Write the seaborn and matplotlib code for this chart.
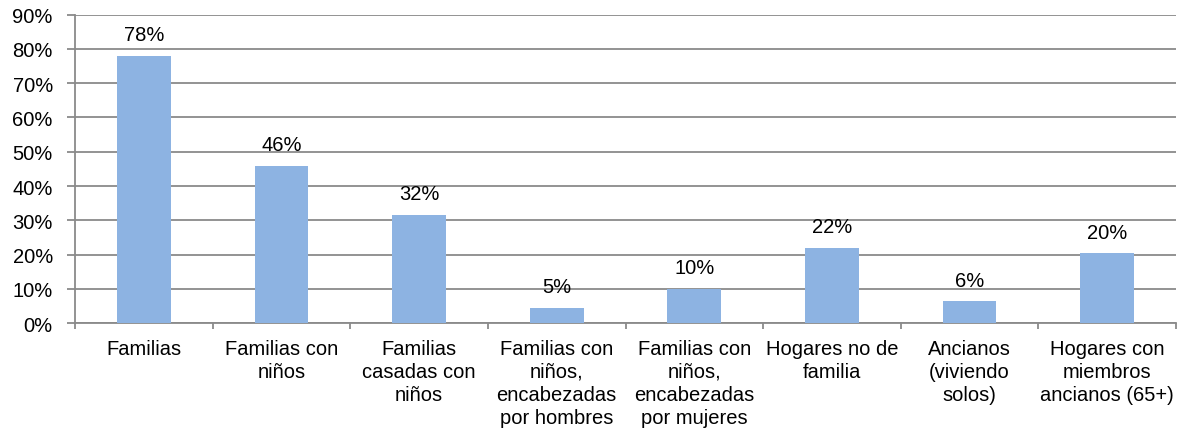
import matplotlib
matplotlib.use("Agg")
import matplotlib.pyplot as plt
import seaborn as sns
import pandas as pd

# Household types and their share of all households (%)
categories = [
    "Familias",
    "Familias con\nniños",
    "Familias\ncasadas con\nniños",
    "Familias con\nniños,\nencabezadas\npor hombres",
    "Familias con\nniños,\nencabezadas\npor mujeres",
    "Hogares no de\nfamilia",
    "Ancianos\n(viviendo\nsolos)",
    "Hogares con\nmiembros\nancianos (65+)",
]
shares = [78.0, 46.0, 31.6, 4.6, 10.0, 22.0, 6.4, 20.4]
y_ticks = [0, 10, 20, 30, 40, 50, 60, 70, 80, 90]

df = pd.DataFrame({"tipo": categories, "pct": shares})

sns.set_theme(style="white")
plt.rcParams["font.family"] = ["Liberation Sans", "DejaVu Sans"]

fig = plt.figure(figsize=(11.8, 4.31), dpi=100)
ax = fig.add_axes([0.0636, 0.2476, 0.933, 0.7162])

grey = "#8a8a8a"
sns.barplot(data=df, x="tipo", y="pct", color="#8DB3E2", saturation=1,
            width=0.39, linewidth=0, ax=ax, zorder=3)

ax.set_ylim(0, 90)
ax.set_xlim(-0.5, len(categories) - 0.5)
ax.set_yticks(y_ticks)
ax.set_yticklabels([f"{t}%" for t in y_ticks])
ax.yaxis.grid(True, color=grey, linewidth=1.3, zorder=0)
ax.set_axisbelow(True)

# category separators as outward ticks on the x axis
ax.set_xticks([i + 0.5 for i in range(-1, len(categories))], minor=True)
ax.set_xticks(range(len(categories)))
ax.set_xticklabels(categories, linespacing=1.28)
ax.tick_params(axis="x", which="major", length=0, pad=11, labelsize=14.5,
               colors="black")
ax.tick_params(axis="x", which="minor", length=4, width=1.3, color=grey,
               direction="out", bottom=True)
ax.tick_params(axis="y", length=6, width=1.3, color=grey, direction="out",
               left=True, labelsize=14.5, pad=10, labelcolor="black")

for side in ["top", "right"]:
    ax.spines[side].set_visible(False)
for side in ["left", "bottom"]:
    ax.spines[side].set_color(grey)
    ax.spines[side].set_linewidth(1.3)

ax.set_xlabel("")
ax.set_ylabel("")

for container in ax.containers:
    ax.bar_label(container, labels=[f"{v:.0f}%" for v in shares],
                 padding=8.5, fontsize=14.5, color="black")

fig.savefig("out.png", dpi=100)
